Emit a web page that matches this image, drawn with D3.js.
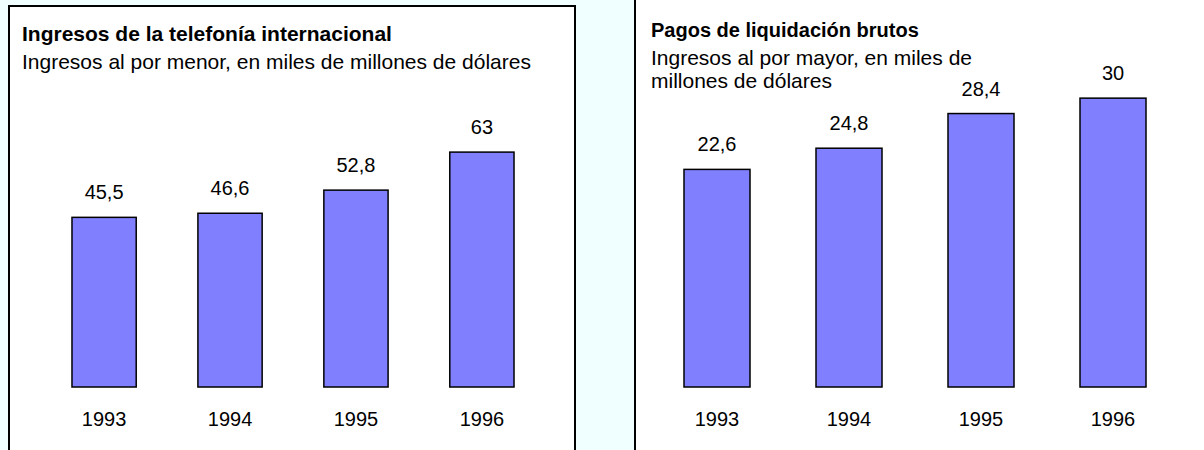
<!DOCTYPE html>
<html lang="es">
<head>
<meta charset="UTF-8">
<title>Ingresos de la telefonía internacional</title>
<script src="https://cdn.jsdelivr.net/npm/d3@7"></script>
<style>
  body { margin: 0; background: #f0ffff; }
  svg { display: block; font-family: Arial, "Liberation Sans", sans-serif; }
</style>
</head>
<body>
<svg width="1204" height="450"></svg>
<script>
// datos
var years = ["1993", "1994", "1995", "1996"];
var retail = [45.5, 46.6, 52.8, 63];        // ingresos al por menor
var settlement = [22.6, 24.8, 28.4, 30];    // pagos de liquidación
var fmt = function(v){ return String(v).replace(".", ","); };

var svg = d3.select("svg");

svg.append("rect").attr("width", 1204).attr("height", 450).attr("fill", "#f0ffff");

// paneles
svg.append("rect")
    .attr("x", 9).attr("y", 6).attr("width", 566).attr("height", 500)
    .attr("fill", "#fff").attr("stroke", "#000").attr("stroke-width", 2);
svg.append("rect")
    .attr("x", 635).attr("y", -10).attr("width", 600).attr("height", 500)
    .attr("fill", "#fff").attr("stroke", "#000").attr("stroke-width", 2);

function panel(cfg) {
    var g = svg.append("g");
    var x = d3.scaleBand().domain(years).range(cfg.xr)
        .paddingInner(cfg.pi).paddingOuter(cfg.po);
    var y = d3.scaleLinear().domain([0, cfg.ymax]).range([387, cfg.ytop]);

    // título
    g.append("text").attr("x", cfg.tx).attr("y", cfg.ty)
        .attr("font-size", cfg.tsize).attr("font-weight", "bold").text(cfg.title);
    cfg.sub.forEach(function(s, i){
        g.append("text").attr("x", cfg.tx).attr("y", cfg.sy + i * 23)
            .attr("font-size", 21).text(s);
    });

    g.selectAll(".bar").data(cfg.values).enter().append("rect")
        .attr("x", function(d, i){ return x(years[i]); })
        .attr("y", function(d){ return y(d); })
        .attr("width", x.bandwidth())
        .attr("height", function(d){ return y(0) - y(d); })
        .attr("fill", "#8080ff").attr("stroke", "#000").attr("stroke-width", 1.5);

    g.selectAll(".val").data(cfg.values).enter().append("text")
        .attr("x", function(d, i){ return x(years[i]) + x.bandwidth() / 2; })
        .attr("y", function(d){ return y(d) - 18; })
        .attr("text-anchor", "middle").attr("font-size", 20)
        .text(fmt);

    // eje x sin línea
    var ax = g.append("g").attr("transform", "translate(0,387)")
        .call(d3.axisBottom(x).tickSize(0).tickPadding(25));
    ax.select(".domain").remove();
    ax.selectAll("text").attr("font-size", 20).attr("font-family", null).attr("fill", "#000");
}

panel({
    xr: [41, 545], pi: 0.49, po: 0.246, ymax: 70, ytop: 126, values: retail,
    tx: 22, ty: 41, tsize: 21, title: "Ingresos de la telefonía internacional",
    sy: 69, sub: ["Ingresos al por menor, en miles de millones de dólares"]
});
panel({
    xr: [651, 1179], pi: 0.5, po: 0.25, ymax: 35, ytop: 50, values: settlement,
    tx: 651, ty: 37, tsize: 20, title: "Pagos de liquidación brutos",
    sy: 65, sub: ["Ingresos al por mayor, en miles de", "millones de dólares"]
});
</script>
</body>
</html>
